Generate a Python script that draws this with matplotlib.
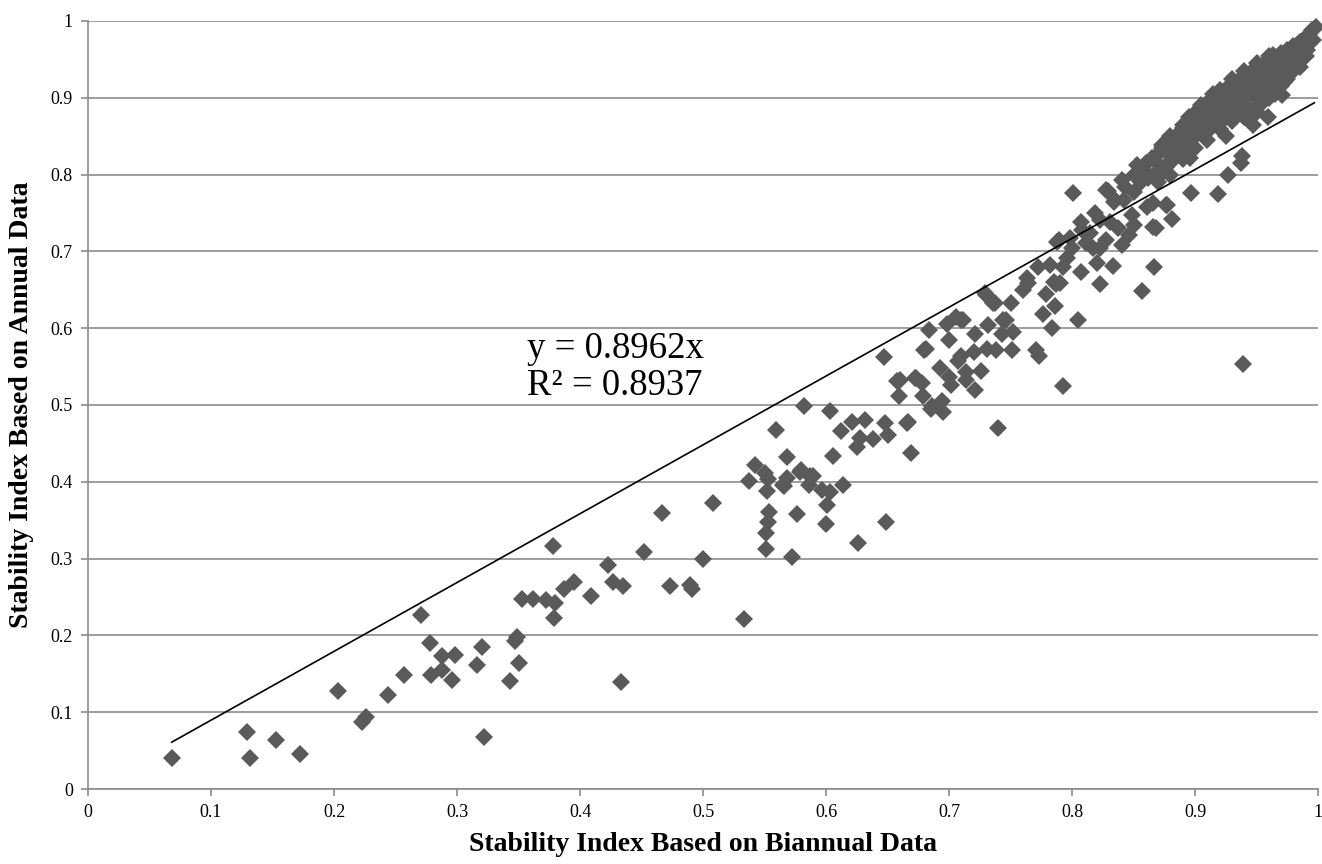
import numpy as np
import matplotlib
matplotlib.use("Agg")
import matplotlib.pyplot as plt

# Stability index pairs (biannual, annual)
# low / middle range
biannual_low = [0.068, 0.129, 0.132, 0.153, 0.172, 0.203, 0.223, 0.226, 0.244, 0.257,
                0.271, 0.278, 0.279, 0.288, 0.288, 0.296, 0.298, 0.316, 0.320, 0.322,
                0.343, 0.347, 0.349, 0.350, 0.353, 0.362, 0.372, 0.378, 0.379, 0.380,
                0.387, 0.395, 0.409, 0.423, 0.427, 0.433, 0.435, 0.452, 0.467, 0.473,
                0.489, 0.491, 0.500, 0.508, 0.533]
annual_low = [0.041, 0.074, 0.041, 0.064, 0.046, 0.128, 0.087, 0.094, 0.122, 0.148,
              0.227, 0.190, 0.148, 0.173, 0.155, 0.142, 0.174, 0.162, 0.185, 0.068,
              0.141, 0.193, 0.198, 0.164, 0.248, 0.248, 0.246, 0.317, 0.223, 0.242,
              0.261, 0.270, 0.251, 0.292, 0.269, 0.139, 0.264, 0.308, 0.360, 0.264,
              0.265, 0.261, 0.300, 0.373, 0.221]

biannual_mid = [0.537, 0.542, 0.550, 0.551, 0.551, 0.552, 0.553, 0.553, 0.554, 0.559,
                0.565, 0.566, 0.568, 0.568, 0.572, 0.576, 0.579, 0.580, 0.582, 0.586,
                0.587, 0.589, 0.597, 0.600, 0.601, 0.603, 0.603, 0.606, 0.612, 0.614,
                0.621, 0.625, 0.626, 0.628, 0.632, 0.638, 0.647, 0.648, 0.649, 0.650,
                0.658, 0.659, 0.660, 0.666, 0.667, 0.669, 0.672, 0.673, 0.678, 0.679,
                0.680, 0.681, 0.684, 0.685, 0.686, 0.693, 0.694, 0.695, 0.698, 0.700,
                0.700, 0.702, 0.706, 0.707, 0.710, 0.710, 0.711, 0.714, 0.714, 0.720,
                0.721, 0.721, 0.726, 0.729, 0.730, 0.731, 0.732, 0.736, 0.737, 0.738,
                0.740, 0.743, 0.744, 0.746, 0.750, 0.751, 0.752, 0.760, 0.763, 0.764,
                0.771, 0.772, 0.773, 0.776, 0.779, 0.782, 0.784, 0.785, 0.786, 0.787,
                0.788, 0.789, 0.790, 0.793, 0.793, 0.796, 0.798, 0.800, 0.801, 0.805]
annual_mid = [0.401, 0.422, 0.411, 0.333, 0.312, 0.388, 0.348, 0.403, 0.361, 0.468,
              0.396, 0.394, 0.405, 0.432, 0.302, 0.358, 0.413, 0.416, 0.499, 0.396,
              0.407, 0.407, 0.389, 0.345, 0.370, 0.387, 0.492, 0.434, 0.466, 0.396,
              0.478, 0.445, 0.320, 0.457, 0.481, 0.456, 0.562, 0.477, 0.348, 0.461,
              0.531, 0.512, 0.532, 0.477, 0.478, 0.438, 0.535, 0.535, 0.529, 0.512,
              0.572, 0.573, 0.598, 0.495, 0.499, 0.548, 0.505, 0.491, 0.605, 0.585,
              0.537, 0.526, 0.615, 0.557, 0.611, 0.564, 0.611, 0.543, 0.532, 0.569,
              0.592, 0.519, 0.544, 0.646, 0.643, 0.573, 0.604, 0.633, 0.633, 0.572,
              0.470, 0.592, 0.611, 0.611, 0.633, 0.572, 0.595, 0.650, 0.665, 0.659,
              0.572, 0.680, 0.564, 0.618, 0.645, 0.682, 0.600, 0.660, 0.629, 0.658,
              0.712, 0.715, 0.659, 0.525, 0.680, 0.691, 0.717, 0.704, 0.776, 0.611]

# upper range
biannual_high = [0.807, 0.807, 0.808, 0.811, 0.815, 0.817, 0.819, 0.820, 0.823, 0.823,
                 0.823, 0.828, 0.828, 0.829, 0.831, 0.833, 0.834, 0.835, 0.837, 0.841,
                 0.841, 0.842, 0.843, 0.846, 0.849, 0.850, 0.850, 0.850, 0.853, 0.856,
                 0.857, 0.858, 0.858, 0.860, 0.861, 0.862, 0.865, 0.866, 0.866, 0.867,
                 0.867, 0.868, 0.869, 0.869, 0.871, 0.873, 0.873, 0.875, 0.876, 0.876,
                 0.877, 0.877, 0.879, 0.880, 0.881, 0.881, 0.882, 0.883, 0.885, 0.886,
                 0.888, 0.888, 0.890, 0.891, 0.893, 0.895, 0.896, 0.896, 0.897, 0.898,
                 0.900, 0.901, 0.903, 0.905, 0.905, 0.906, 0.908, 0.910, 0.911, 0.912,
                 0.912, 0.913, 0.915, 0.915, 0.916, 0.918, 0.919, 0.920, 0.921, 0.922,
                 0.923, 0.923, 0.925, 0.925, 0.926, 0.927, 0.928, 0.930, 0.931, 0.931,
                 0.932, 0.933, 0.935, 0.935, 0.936, 0.937, 0.938, 0.938, 0.939, 0.939,
                 0.940, 0.940, 0.941, 0.942, 0.943, 0.945, 0.945, 0.946, 0.947, 0.948,
                 0.950, 0.950, 0.951, 0.952, 0.953, 0.955, 0.955, 0.956, 0.958, 0.959,
                 0.960, 0.961, 0.962, 0.963, 0.963, 0.965, 0.965, 0.966, 0.968, 0.970,
                 0.971, 0.971, 0.972, 0.973, 0.975, 0.975, 0.976, 0.978, 0.980, 0.981,
                 0.983, 0.983, 0.985, 0.985, 0.986, 0.988, 0.990, 0.991, 0.993, 0.995,
                 0.996, 0.998]
annual_high = [0.738, 0.673, 0.728, 0.711, 0.724, 0.704, 0.750, 0.685, 0.741, 0.704,
               0.658, 0.715, 0.780, 0.779, 0.738, 0.681, 0.764, 0.767, 0.730, 0.708,
               0.793, 0.767, 0.784, 0.721, 0.747, 0.777, 0.734, 0.800, 0.812, 0.790,
               0.648, 0.809, 0.806, 0.815, 0.758, 0.796, 0.822, 0.763, 0.732, 0.680,
               0.797, 0.730, 0.803, 0.826, 0.812, 0.835, 0.839, 0.805, 0.810, 0.760,
               0.829, 0.760, 0.843, 0.818, 0.819, 0.742, 0.819, 0.838, 0.852, 0.826,
               0.845, 0.845, 0.861, 0.834, 0.855, 0.870, 0.842, 0.822, 0.776, 0.862,
               0.880, 0.851, 0.872, 0.888, 0.870, 0.858, 0.878, 0.893, 0.866, 0.878,
               0.860, 0.884, 0.899, 0.885, 0.872, 0.890, 0.775, 0.905, 0.877, 0.870,
               0.896, 0.900, 0.912, 0.895, 0.884, 0.800, 0.902, 0.918, 0.889, 0.913,
               0.880, 0.908, 0.922, 0.905, 0.894, 0.815, 0.913, 0.824, 0.921, 0.553,
               0.928, 0.890, 0.900, 0.885, 0.918, 0.932, 0.915, 0.905, 0.865, 0.923,
               0.938, 0.882, 0.910, 0.900, 0.928, 0.943, 0.930, 0.915, 0.933, 0.875,
               0.948, 0.920, 0.910, 0.938, 0.956, 0.953, 0.940, 0.926, 0.943, 0.958,
               0.932, 0.904, 0.920, 0.948, 0.962, 0.950, 0.940, 0.953, 0.967, 0.947,
               0.960, 0.969, 0.972, 0.965, 0.955, 0.966, 0.978, 0.962, 0.983, 0.988,
               0.975, 0.992]

# extra points filling out the dense band near the top right
biannual_band = [0.870, 0.880, 0.890, 0.900, 0.910, 0.920, 0.925, 0.930, 0.940, 0.945,
                 0.950, 0.955, 0.960, 0.965, 0.970, 0.975, 0.980, 0.985, 0.990, 0.880,
                 0.890, 0.895, 0.905, 0.915, 0.920, 0.930, 0.940, 0.950, 0.960, 0.955,
                 0.945, 0.935, 0.965, 0.975, 0.968, 0.958, 0.948, 0.928, 0.918, 0.908]
annual_band = [0.790, 0.800, 0.820, 0.835, 0.845, 0.860, 0.850, 0.870, 0.875, 0.880,
               0.890, 0.895, 0.900, 0.905, 0.915, 0.925, 0.935, 0.940, 0.955, 0.850,
               0.865, 0.875, 0.890, 0.905, 0.910, 0.925, 0.935, 0.945, 0.955, 0.920,
               0.910, 0.898, 0.930, 0.945, 0.925, 0.912, 0.902, 0.885, 0.872, 0.862]

biannual = np.array(biannual_low + biannual_mid + biannual_high + biannual_band)
annual = np.array(annual_low + annual_mid + annual_high + annual_band)

slope = 0.8962
r_squared = 0.8937
trend_x = np.array([0.068, 0.997])

plt.rcParams['font.family'] = ['Liberation Serif', 'DejaVu Serif']

fig = plt.figure(figsize=(13.22, 8.64), dpi=100)
ax = fig.add_axes([0.0666, 0.0868, 0.9304, 0.8889])

grid_col = '#8c8c8c'
ax.set_xlim(0, 1)
ax.set_ylim(0, 1)
ax.set_xticks(np.arange(0, 1.01, 0.1))
ax.set_yticks(np.arange(0, 1.01, 0.1))
ax.set_xticklabels(['0', '0.1', '0.2', '0.3', '0.4', '0.5', '0.6', '0.7', '0.8', '0.9', '1'])
ax.set_yticklabels(['0', '0.1', '0.2', '0.3', '0.4', '0.5', '0.6', '0.7', '0.8', '0.9', '1'])
ax.yaxis.grid(True, color=grid_col, linewidth=1.2)
ax.set_axisbelow(True)
for side in ['top', 'right']:
    ax.spines[side].set_visible(False)
for side in ['left', 'bottom']:
    ax.spines[side].set_color(grid_col)
    ax.spines[side].set_linewidth(1.2)
ax.tick_params(axis='both', direction='out', length=5, width=1.2, color=grid_col,
               labelsize=13, pad=6)

# data points
ax.plot(biannual, annual, linestyle='none', marker='D', markersize=8.8,
        color='#5a5a5a', markeredgewidth=0, clip_on=False, zorder=3)

# linear trendline through origin
ax.plot(trend_x, slope * trend_x, color='black', linewidth=1.2, zorder=4)

ax.text(0.357, 0.561, f'y = {slope}x', fontsize=26.5, va='baseline', ha='left')
ax.text(0.357, 0.513, f'R² = {r_squared}', fontsize=26.5, va='baseline', ha='left')

ax.set_xlabel('Stability Index Based on Biannual Data', fontsize=20,
              fontweight='bold', labelpad=8)
ax.set_ylabel('Stability Index Based on Annual Data', fontsize=20,
              fontweight='bold', labelpad=12)

fig.savefig('out.png', dpi=100)
